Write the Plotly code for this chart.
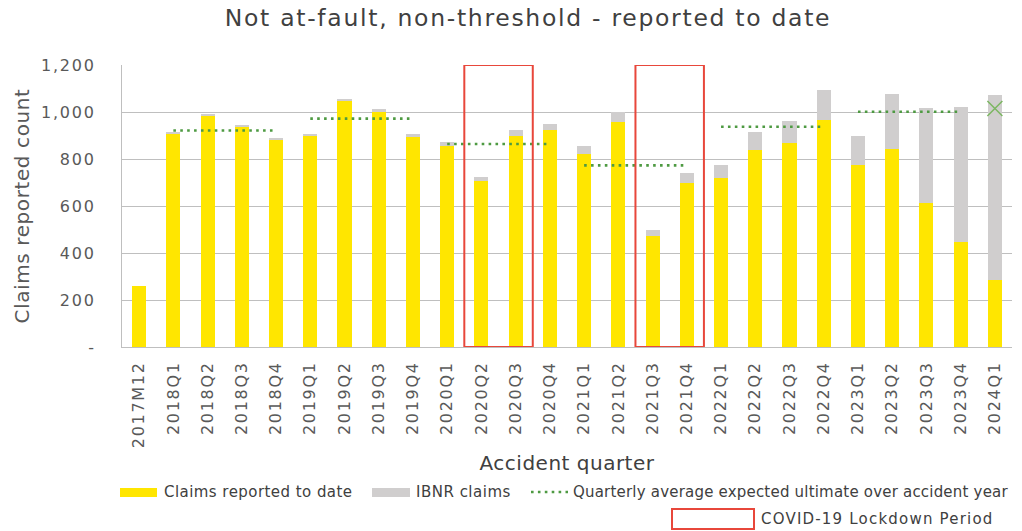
import plotly.graph_objects as go

# ---------------- data ----------------
categories = ["2017M12",
              "2018Q1", "2018Q2", "2018Q3", "2018Q4",
              "2019Q1", "2019Q2", "2019Q3", "2019Q4",
              "2020Q1", "2020Q2", "2020Q3", "2020Q4",
              "2021Q1", "2021Q2", "2021Q3", "2021Q4",
              "2022Q1", "2022Q2", "2022Q3", "2022Q4",
              "2023Q1", "2023Q2", "2023Q3", "2023Q4",
              "2024Q1"]
reported = [260, 909, 984, 939, 882, 899, 1050, 1001, 892, 854, 706, 900, 923,
            823, 957, 472, 696, 721, 837, 867, 966, 774, 844, 611, 448, 285]
ibnr = [0, 3, 6, 5, 6, 6, 5, 12, 13, 17, 17, 22, 26,
        34, 41, 26, 44, 55, 78, 95, 128, 122, 233, 406, 573, 787]
years = ["2018", "2019", "2020", "2021", "2022", "2023"]
year_avg = [921, 972, 864, 773, 937, 1001]
latest_quarter = ["2024Q1"]
latest_avg = [1015]
covid_periods = [("2020Q2", "2020Q3"), ("2021Q3", "2021Q4")]
y_ticks = [0, 200, 400, 600, 800, 1000, 1200]
y_ticktext = ["-", "200", "400", "600", "800", "1,000", "1,200"]

YELLOW = "#FFE600"
GREY = "#D0CECE"
GREEN = "#4E9A42"
RED = "#E8473B"
FONT = "DejaVu Sans"

W, H = 1022, 531
L, R, T, B = 122, 10, 65, 184
PW, PH = W - L - R, H - T - B


def px(xp):
    return (xp - L) / PW


def py(yp):
    return (H - B - yp) / PH


fig = go.Figure()
fig.add_trace(go.Bar(x=categories, y=reported, marker=dict(color=YELLOW, line=dict(width=0)),
                     name="Claims reported to date", showlegend=False))
fig.add_trace(go.Bar(x=categories, y=ibnr, marker=dict(color=GREY, line=dict(width=0)),
                     name="IBNR claims", showlegend=False))

for yr, avg in zip(years, year_avg):
    qs = [c for c in categories if c.startswith(yr + "Q")]
    fig.add_trace(go.Scatter(x=qs, y=[avg] * len(qs), mode="lines",
                             line=dict(color=GREEN, width=2.6, dash="2.6px,4.3px"),
                             showlegend=False,
                             name="Quarterly average expected ultimate over accident year"))

fig.add_trace(go.Scatter(x=latest_quarter, y=latest_avg, mode="markers",
                         marker=dict(symbol="x-thin", size=15, line=dict(color="#7BB661", width=1.5)),
                         showlegend=False))

shapes = []
for a, b in covid_periods:
    i0, i1 = categories.index(a), categories.index(b)
    shapes.append(dict(type="rect", xref="x", yref="y", x0=i0 - 0.5, x1=i1 + 0.5,
                       y0=0, y1=y_ticks[-1], line=dict(color=RED, width=2),
                       fillcolor="rgba(0,0,0,0)", layer="above"))

# manual legend
leg_row1 = 492
shapes.append(dict(type="rect", xref="paper", yref="paper", x0=px(120), x1=px(157),
                   y0=py(497), y1=py(488), fillcolor=YELLOW, line=dict(width=0)))
shapes.append(dict(type="rect", xref="paper", yref="paper", x0=px(372), x1=px(410),
                   y0=py(497), y1=py(488), fillcolor=GREY, line=dict(width=0)))
shapes.append(dict(type="line", xref="paper", yref="paper", x0=px(531), x1=px(568),
                   y0=py(leg_row1), y1=py(leg_row1),
                   line=dict(color=GREEN, width=2.6, dash="2.6px,4.3px")))
shapes.append(dict(type="rect", xref="paper", yref="paper", x0=px(672), x1=px(754),
                   y0=py(529), y1=py(509), fillcolor="rgba(0,0,0,0)",
                   line=dict(color=RED, width=2)))

annotations = []
for txt, xl, yc in [("Claims reported to date", 162, leg_row1),
                    ("IBNR claims", 414, leg_row1),
                    ("Quarterly average expected ultimate over accident year", 571, leg_row1),
                    ("COVID-19 Lockdown Period", 759, 519)]:
    annotations.append(dict(text=txt, xref="paper", yref="paper", x=px(xl), y=py(yc),
                            xanchor="left", yanchor="middle", align="left", showarrow=False,
                            font=dict(family=FONT, size=15, color="#404040")))

fig.update_layout(
    width=W, height=H,
    margin=dict(l=L, r=R, t=T, b=B, autoexpand=False),
    paper_bgcolor="white", plot_bgcolor="white",
    barmode="stack", bargap=0.59,
    title=dict(text="Not at-fault, non-threshold - reported to date",
               x=528 / W, xref="container", xanchor="center",
               y=1 - 18 / H, yref="container", yanchor="middle",
               font=dict(family=FONT, size=23.5, color="#404040")),
    font=dict(family=FONT, color="#595959"),
    shapes=shapes, annotations=annotations,
    showlegend=False,
)
fig.update_xaxes(
    type="category", categoryorder="array", categoryarray=categories,
    range=[-0.5, len(categories) - 0.5],
    tickangle=-90, tickfont=dict(family=FONT, size=16, color="#595959"),
    showline=True, linecolor="#BFBFBF", linewidth=1, showgrid=False, ticks="",
    ticklabelstandoff=7,
    title=dict(text="Accident quarter", standoff=20,
               font=dict(family=FONT, size=20, color="#404040")),
    automargin=False,
)
fig.update_yaxes(
    range=[0, 1200], tickvals=y_ticks, ticktext=y_ticktext,
    tickfont=dict(family=FONT, size=16, color="#595959"),
    showgrid=True, gridcolor="#BFBFBF", gridwidth=1,
    showline=True, linecolor="#BFBFBF", linewidth=1, ticks="",
    ticklabelstandoff=22, zeroline=False,
    title=dict(text="Claims reported count", standoff=14,
               font=dict(family=FONT, size=20, color="#595959")),
    automargin=False,
)

post = """
document.body.style.margin='0px';
var gd = document.getElementById('{plot_id}');
function sp(sel, v) { gd.querySelectorAll(sel).forEach(function(t){ t.style.letterSpacing = v; }); }
sp('.g-gtitle text', '1.7px');
sp('.xtick text', '1.7px');
sp('.ytick text', '1.8px');
sp('.g-xtitle text', '0.5px');
sp('.g-ytitle text', '0.6px');
var ann = gd.querySelectorAll('.annotation-text');
var annSp = ['0.45px', '0.5px', '0.2px', '1.2px'];
ann.forEach(function(t, i){ t.style.letterSpacing = annSp[i] || '0.5px'; });
"""

fig.write_html("out.html", post_script=post, config={"displayModeBar": False})
